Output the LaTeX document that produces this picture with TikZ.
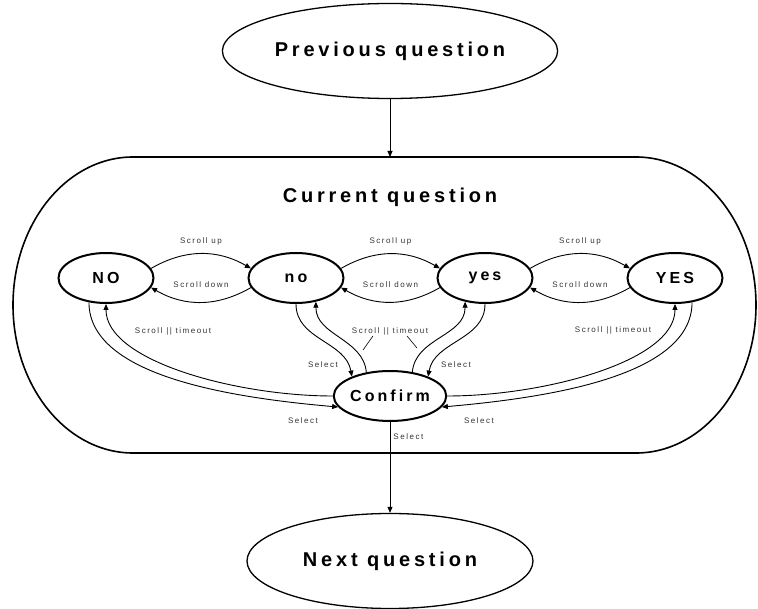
\documentclass[tikz,border=0pt]{standalone}
\usepackage{fontspec}
\setmainfont{Liberation Sans}
\newfontfamily\spacedfont[LetterSpace=19]{Liberation Sans}
\usetikzlibrary{arrows.meta, shapes.geometric}
\tikzset{
  bigstate/.style={
    draw, ellipse, line width=1.3pt,
    minimum width=286pt, minimum height=95pt,
    font=\spacedfont\fontsize{20}{24}\selectfont\bfseries
  },
  state/.style={
    draw, ellipse, line width=2pt,
    inner sep=0pt,
    minimum width=95pt, minimum height=50pt,
    font=\spacedfont\fontsize{16}{19}\selectfont\bfseries
  },
  flow/.style={
    -{Triangle[length=6pt,width=5pt]},
    line width=0.9pt
  },
  edgelabel/.style={
    font=\spacedfont\fontsize{8}{10}\selectfont,
    text=black!80,
    inner sep=1pt
  },
  container/.style={line width=1.6pt}
}

\begin{document}
\begin{tikzpicture}[x=1pt, y=-1pt]
  \useasboundingbox (0,0) rectangle (758,609);

  % outer questions
  \node[bigstate] (prev) at (390,51) {Previous question};
  \node[bigstate] (next) at (390,561) {Next question};

  % current question box
  \draw[container] (133,157) -- (636,157)
    arc[start angle=-90, end angle=90, x radius=120, y radius=148]
    -- (133,453)
    arc[start angle=90, end angle=270, x radius=120, y radius=148] -- cycle;
  \coordinate (curtop) at (390,157);
  \node[font=\spacedfont\fontsize{20}{24}\selectfont\bfseries] (cur) at (390,197) {Current question};

  % answer states
  \node[state] (NO)  at (106,278) {NO};
  \node[state] (no)  at (296,278) {no};
  \node[state] (yes) at (485,278) {yes};
  \node[state] (YES) at (675,278) {YES};
  \node[state] (conf) at (390,396) {Confirm};

  \draw[flow] (prev) -- (curtop);
  \draw[flow] (conf) -- node[edgelabel, pos=0.16, right=2pt] {Select} (next);

  % scrolling
  \draw[flow] (NO.12) to[out=30, in=150] node[edgelabel, above=7pt] {Scroll up} (no.168);
  \draw[flow] (no.192) to[out=210, in=330] node[edgelabel, above=13pt] {Scroll down} (NO.348);
  \draw[flow] (no.12) to[out=30, in=150] node[edgelabel, above=7pt] {Scroll up} (yes.168);
  \draw[flow] (yes.192) to[out=210, in=330] node[edgelabel, above=13pt] {Scroll down} (no.348);
  \draw[flow] (yes.12) to[out=30, in=150] node[edgelabel, above=7pt] {Scroll up} (YES.168);
  \draw[flow] (YES.192) to[out=210, in=330] node[edgelabel, above=13pt] {Scroll down} (yes.348);

  % select and return
  \draw[flow] (NO.235) to[out=270, in=175, out looseness=0.7] (conf.192);
  \draw[flow] (conf.180) to[out=180, in=270, in looseness=0.6] (NO.270);
  \draw[flow] (no.270) to[out=270, in=100] (conf.153);
  \draw[flow] (conf.135) to[out=95, in=270] (no.310);
  \draw[flow] (conf.47) to[out=85, in=270] (yes.230);
  \draw[flow] (yes.270) to[out=270, in=80] (conf.27);
  \draw[flow] (conf.0) to[out=0, in=270, in looseness=0.6] (YES.270);
  \draw[flow] (YES.305) to[out=270, in=5, out looseness=0.7] (conf.348);

  \node[edgelabel] (tNO)  at (173,331) {Scroll || timeout};
  \node[edgelabel] (tmid) at (390,331) {Scroll || timeout};
  \node[edgelabel] (tYES) at (613,330) {Scroll || timeout};
  \node[edgelabel] (sNO)  at (303,421) {Select};
  \node[edgelabel] (sno)  at (323,365) {Select};
  \node[edgelabel] (syes) at (456,365) {Select};
  \node[edgelabel] (sYES) at (479,421) {Select};

  \coordinate (pinL) at (363,350);
  \coordinate (pinR) at (417,348);
  \draw[line width=0.6pt] ([xshift=-17pt]tmid.south) -- (pinL);
  \draw[line width=0.6pt] ([xshift=17pt]tmid.south) -- (pinR);
\end{tikzpicture}
\end{document}
